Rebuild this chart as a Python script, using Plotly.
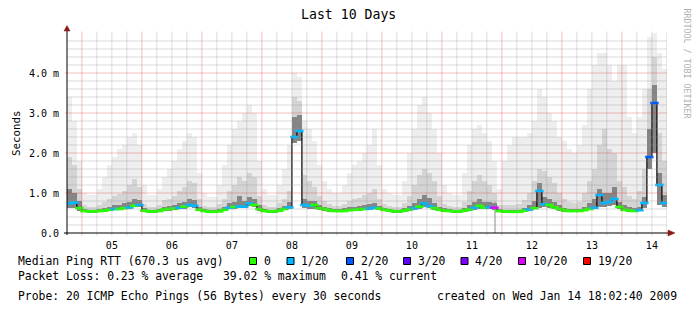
import numpy as np
import pandas as pd
import plotly.graph_objects as go

# ---------------- data (2-hour bins starting 2009-01-04 18:00) ----------------
bin_start = "2009-01-04 18:00"

median_ms = [
    0.74, 0.76, 0.62,
    0.55, 0.54, 0.54, 0.55, 0.56, 0.58, 0.60, 0.60, 0.62, 0.64, 0.68, 0.70,
    0.56, 0.54, 0.54, 0.55, 0.59, 0.60, 0.61, 0.63, 0.66, 0.70, 0.68, 0.58,
    0.55, 0.53, 0.53, 0.54, 0.58, 0.63, 0.65, 0.66, 0.66, 0.74, 0.70, 0.60,
    0.55, 0.54, 0.54, 0.56, 0.60, 0.64, 2.40, 2.55, 0.70, 0.68, 0.70, 0.62,
    0.60, 0.57, 0.55, 0.55, 0.55, 0.57, 0.58, 0.59, 0.60, 0.61, 0.63, 0.61,
    0.58, 0.56, 0.54, 0.54, 0.56, 0.59, 0.62, 0.66, 0.74, 0.67, 0.62, 0.58,
    0.56, 0.55, 0.54, 0.54, 0.56, 0.59, 0.63, 0.68, 0.63, 0.64, 0.63, 0.55,
    0.54, 0.53, 0.53, 0.53, 0.56, 0.59, 0.62, 1.05, 0.72, 0.70, 0.64, 0.60,
    0.57, 0.55, 0.55, 0.55, 0.57, 0.60, 0.63, 0.95, 0.75, 0.78, 0.85, 0.65,
    0.58, 0.56, 0.55, 0.57, 0.75, 1.90, 3.25, 1.20, 0.75,
]

loss_level = [
    1, 1, 0,
    0, 0, 0, 0, 0, 0, 1, 0, 0, 1, 0, 1,
    0, 0, 0, 0, 0, 0, 0, 1, 0, 1, 1, 0,
    0, 0, 0, 0, 0, 1, 0, 1, 1, 1, 0, 0,
    0, 0, 0, 0, 0, 1, 1, 1, 1, 1, 0, 0,
    0, 0, 0, 0, 0, 0, 0, 0, 0, 1, 1, 0,
    0, 0, 0, 0, 0, 0, 1, 0, 1, 1, 0, 0,
    0, 0, 0, 0, 0, 0, 1, 0, 0, 1, 5, 0,
    0, 0, 0, 0, 0, 1, 0, 1, 1, 0, 0, 0,
    0, 0, 0, 0, 0, 0, 1, 1, 1, 1, 1, 0,
    0, 0, 0, 1, 1, 2, 2, 1, 1,
]

smoke_min = [
    0.62, 0.62, 0.55,
    0.52, 0.51, 0.51, 0.52, 0.53, 0.55, 0.57, 0.57, 0.59, 0.61, 0.64, 0.66,
    0.53, 0.51, 0.51, 0.52, 0.55, 0.56, 0.57, 0.59, 0.61, 0.64, 0.63, 0.55,
    0.52, 0.51, 0.51, 0.52, 0.55, 0.59, 0.61, 0.62, 0.62, 0.68, 0.65, 0.56,
    0.52, 0.51, 0.51, 0.53, 0.57, 0.60, 2.25, 2.30, 0.62, 0.60, 0.60, 0.57,
    0.55, 0.53, 0.52, 0.52, 0.53, 0.54, 0.55, 0.56, 0.57, 0.58, 0.60, 0.58,
    0.54, 0.52, 0.51, 0.51, 0.53, 0.55, 0.58, 0.60, 0.64, 0.62, 0.58, 0.55,
    0.53, 0.52, 0.51, 0.51, 0.53, 0.56, 0.58, 0.60, 0.59, 0.60, 0.58, 0.52,
    0.51, 0.50, 0.50, 0.50, 0.53, 0.56, 0.60, 0.63, 0.64, 0.62, 0.60, 0.56,
    0.53, 0.52, 0.52, 0.52, 0.54, 0.57, 0.60, 0.65, 0.66, 0.68, 0.70, 0.60,
    0.55, 0.53, 0.52, 0.54, 0.62, 1.60, 2.00, 0.70, 0.65,
]

smoke_dark = [
    1.10, 1.00, 0.80,
    0.60, 0.58, 0.58, 0.60, 0.63, 0.66, 0.70, 0.70, 0.74, 0.78, 0.85, 0.82,
    0.62, 0.58, 0.58, 0.60, 0.66, 0.68, 0.70, 0.74, 0.78, 0.85, 0.82, 0.66,
    0.60, 0.58, 0.58, 0.60, 0.66, 0.74, 0.78, 0.92, 0.80, 0.90, 0.85, 0.70,
    0.60, 0.58, 0.58, 0.62, 0.68, 0.78, 2.90, 2.95, 0.85, 0.80, 0.80, 0.70,
    0.66, 0.62, 0.60, 0.60, 0.62, 0.64, 0.66, 0.68, 0.70, 0.72, 0.75, 0.68,
    0.62, 0.60, 0.58, 0.58, 0.62, 0.68, 0.74, 0.85, 0.95, 0.88, 0.76, 0.66,
    0.62, 0.60, 0.58, 0.58, 0.63, 0.70, 0.78, 0.85, 0.78, 0.78, 0.74, 0.60,
    0.58, 0.58, 0.58, 0.58, 0.63, 0.70, 0.80, 1.25, 0.90, 0.85, 0.78, 0.70,
    0.63, 0.60, 0.60, 0.60, 0.66, 0.74, 0.85, 1.10, 1.00, 1.00, 1.15, 0.78,
    0.70, 0.64, 0.62, 0.66, 0.90, 2.60, 3.70, 1.50, 0.95,
]

smoke_mid = [
    1.90, 1.70, 1.10,
    0.70, 0.66, 0.66, 0.70, 0.78, 0.85, 0.92, 0.98, 1.05, 1.20, 1.35, 1.15,
    0.72, 0.66, 0.66, 0.70, 0.82, 0.86, 0.92, 1.05, 1.15, 1.30, 1.25, 0.85,
    0.68, 0.65, 0.65, 0.72, 0.85, 1.05, 1.20, 1.40, 1.30, 1.50, 1.40, 0.92,
    0.70, 0.66, 0.66, 0.74, 0.85, 1.05, 3.40, 3.30, 1.45, 1.30, 1.15, 0.92,
    0.80, 0.72, 0.68, 0.68, 0.72, 0.80, 0.86, 0.88, 0.95, 1.00, 1.10, 0.86,
    0.72, 0.68, 0.66, 0.66, 0.74, 0.92, 1.20, 1.45, 1.60, 1.50, 1.30, 0.92,
    0.72, 0.68, 0.66, 0.66, 0.78, 1.05, 1.30, 1.45, 1.30, 1.20, 1.00, 0.70,
    0.70, 0.70, 0.70, 0.72, 0.82, 1.00, 1.30, 1.60, 1.55, 1.40, 1.25, 1.00,
    0.85, 0.78, 0.75, 0.78, 1.00, 1.30, 1.60, 2.20, 2.60, 2.10, 2.00, 1.30,
    1.15, 0.92, 0.85, 1.05, 1.60, 3.60, 4.40, 2.50, 1.80,
]

smoke_max = [
    3.40, 2.80, 1.80,
    1.00, 0.95, 0.95, 1.10, 1.40, 1.70, 1.90, 2.10, 2.20, 2.40, 2.50, 2.20,
    1.20, 0.95, 0.95, 1.10, 1.40, 1.60, 1.80, 2.10, 2.30, 2.50, 2.40, 1.50,
    1.00, 0.90, 0.90, 1.20, 1.70, 2.20, 2.60, 2.80, 3.00, 3.20, 3.00, 1.80,
    1.10, 0.95, 0.95, 1.20, 1.60, 2.20, 4.00, 3.90, 2.80, 2.60, 2.30, 1.70,
    1.30, 1.10, 1.00, 1.00, 1.20, 1.50, 1.70, 1.80, 2.00, 2.20, 2.60, 1.70,
    1.10, 1.00, 0.95, 0.95, 1.30, 2.00, 2.60, 3.20, 3.40, 3.00, 2.60, 2.00,
    1.20, 1.00, 0.95, 0.95, 1.50, 2.20, 2.60, 2.70, 2.50, 2.30, 1.80, 1.10,
    1.80, 2.20, 2.40, 2.40, 2.40, 2.50, 2.80, 3.60, 3.40, 3.00, 2.80, 2.40,
    2.30, 2.10, 2.00, 2.20, 2.70, 3.60, 4.20, 4.50, 4.50, 4.20, 3.80, 4.20,
    4.20, 2.90, 2.50, 2.90, 3.60, 4.90, 5.00, 4.50, 4.10,
]

day_labels = ["05", "06", "07", "08", "09", "10", "11", "12", "13", "14"]
y_tick_vals = [0, 1, 2, 3, 4]
y_tick_text = ["0.0", "1.0 m", "2.0 m", "3.0 m", "4.0 m"]
loss_labels = ["0", "1/20", "2/20", "3/20", "4/20", "10/20", "19/20"]
loss_colors = ["#26ff00", "#00b8ff", "#0059ff", "#5e00ff", "#7e00ff", "#dd00ff", "#ff0000"]
gap_time = ["2009-01-11 21:15"]
gap_top = [0.78]

title_text = "Last 10 Days"
legend_title = "Median Ping RTT (670.3 us avg)"
loss_line = ["Packet Loss: 0.23 % average", "39.02 % maximum", "0.41 % current"]
probe_text = "Probe: 20 ICMP Echo Pings (56 Bytes) every 30 seconds"
created_text = "created on Wed Jan 14 18:02:40 2009"
side_text = "RRDTOOL / TOBI OETIKER"

# ---------------- geometry helpers ----------------
W, H = 697, 313
L, R, T, B = 67, 30, 33, 80
PW, PH = W - L - R, H - T - B
FONT = "DejaVu Sans Mono"


def px(x):
    return (x - L) / PW


def py(y):
    return (H - B - y) / PH


x_start = pd.Timestamp("2009-01-04 18:02:40")
x_end = pd.Timestamp("2009-01-14 18:02:40")
centers = pd.date_range(bin_start, periods=len(median_ms), freq="2h") + pd.Timedelta(hours=1)
bin_ms = 2 * 3600 * 1000

fig = go.Figure()

# smoke
lo = np.array(smoke_min)
for top, col in [(smoke_max, "#eeeeee"), (smoke_mid, "#d4d4d4"), (smoke_dark, "#858585")]:
    fig.add_trace(go.Bar(x=centers, y=np.array(top) - lo, base=lo, width=bin_ms,
                         marker=dict(color=col, line=dict(width=0)),
                         hoverinfo="skip", showlegend=False))

# unknown-data marker line
fig.add_trace(go.Scatter(x=gap_time * 2, y=[0, gap_top[0]], mode="lines",
                         line=dict(color="#8a8a8a", width=1), hoverinfo="skip", showlegend=False))

# median line (connectors) + loss-coloured segments
fig.add_trace(go.Scatter(x=centers, y=median_ms, mode="lines",
                         line=dict(color="#111111", width=1.3, shape="hvh"),
                         hoverinfo="skip", showlegend=False))
fig.add_trace(go.Scatter(x=centers, y=median_ms, mode="markers",
                         marker=dict(symbol="line-ew", size=6,
                                     line=dict(width=2.6, color=[loss_colors[i] for i in loss_level])),
                         hoverinfo="skip", showlegend=False))

shapes = []
# vertical grid
majors = pd.date_range("2009-01-05", "2009-01-14", freq="D")
minors = [t for t in pd.date_range("2009-01-05", "2009-01-14 18:00", freq="6h") if t.hour != 0]
for t in minors:
    shapes.append(dict(type="line", xref="x", yref="paper", x0=t, x1=t, y0=-3 / PH, y1=1 + 1.5 / PH,
                       line=dict(color="rgba(150,150,150,0.33)", width=1), layer="above"))
for t in majors:
    shapes.append(dict(type="line", xref="x", yref="paper", x0=t, x1=t, y0=-3 / PH, y1=1 + 1.5 / PH,
                       line=dict(color="rgba(220,40,40,0.3)", width=1), layer="above"))
# horizontal grid
for v in np.round(np.arange(0.2, 5.01, 0.2), 1):
    if abs(v - round(v)) < 1e-6:
        if v in y_tick_vals:
            shapes.append(dict(type="line", xref="paper", yref="y", x0=-2 / PW, x1=1, y0=v, y1=v,
                               line=dict(color="rgba(220,40,40,0.3)", width=1), layer="above"))
        continue
    shapes.append(dict(type="line", xref="paper", yref="y", x0=0, x1=1, y0=v, y1=v,
                       line=dict(color="rgba(150,150,150,0.33)", width=1), layer="above"))

# axes with arrows
shapes.append(dict(type="line", xref="paper", yref="paper", x0=px(67), x1=px(67), y0=py(235), y1=py(30),
                   line=dict(color="black", width=1), layer="above"))
shapes.append(dict(type="line", xref="paper", yref="paper", x0=px(64), x1=px(670), y0=py(233), y1=py(233),
                   line=dict(color="black", width=1.2), layer="above"))
shapes.append(dict(type="path", xref="paper", yref="paper", layer="above",
                   path=f"M {px(64)},{py(31)} L {px(70)},{py(31)} L {px(67)},{py(25.5)} Z",
                   fillcolor="#8b1a1a", line=dict(color="#8b1a1a", width=0.5)))
shapes.append(dict(type="path", xref="paper", yref="paper", layer="above",
                   path=f"M {px(668)},{py(230)} L {px(668)},{py(236)} L {px(675)},{py(233)} Z",
                   fillcolor="#8b1a1a", line=dict(color="#8b1a1a", width=0.5)))

# legend boxes
box_x = [249.5, 287, 346.5, 403.5, 461, 518.5, 583.5]
for bx, col in zip(box_x, loss_colors):
    shapes.append(dict(type="rect", xref="paper", yref="paper", x0=px(bx), x1=px(bx + 7),
                       y0=py(264.5), y1=py(257.5), fillcolor=col, line=dict(color="black", width=1),
                       layer="above"))

ann = []


def text(x, y, s, size=11.4, anchor="left", color="black", angle=0):
    ann.append(dict(x=px(x), y=py(y), xref="paper", yref="paper", text=s, showarrow=False,
                    xanchor=anchor, yanchor="middle", textangle=angle, borderpad=0,
                    font=dict(family=FONT, size=size, color=color)))


text(348.5, 15, title_text, size=13.2, anchor="center")
text(16, 133, "Seconds", size=10.8, anchor="center", angle=-90)
text(686.5, 63, side_text, size=8.3, anchor="center", color="#b0b0b0", angle=90)
text(17, 261, legend_title)
for bx, lab in zip(box_x, loss_labels):
    text(bx + 13, 261, lab)
text(17, 275.5, loss_line[0])
text(221.5, 275.5, loss_line[1])
text(340, 275.5, loss_line[2])
text(17, 295.5, probe_text)
text(436, 295.5, created_text)

noons = pd.date_range("2009-01-05 12:00", periods=len(day_labels), freq="D")

fig.update_layout(
    width=W, height=H, margin=dict(l=L, r=R, t=T, b=B, autoexpand=False),
    paper_bgcolor="white", plot_bgcolor="white",
    barmode="overlay", bargap=0, showlegend=False,
    shapes=shapes, annotations=ann,
    font=dict(family=FONT, size=10, color="black"),
    xaxis=dict(type="date", range=[x_start, x_end], tickvals=noons, ticktext=day_labels,
               showgrid=False, zeroline=False, showline=False, ticks="outside", ticklen=3,
               tickcolor="rgba(0,0,0,0)", fixedrange=True,
               tickfont=dict(family=FONT, size=10, color="black")),
    yaxis=dict(range=[0, 5], tickvals=y_tick_vals, ticktext=y_tick_text, showgrid=False,
               zeroline=False, showline=False, ticks="outside", ticklen=5,
               tickcolor="rgba(0,0,0,0)", fixedrange=True,
               tickfont=dict(family=FONT, size=10, color="black")),
)

fig.write_html("out.html")
